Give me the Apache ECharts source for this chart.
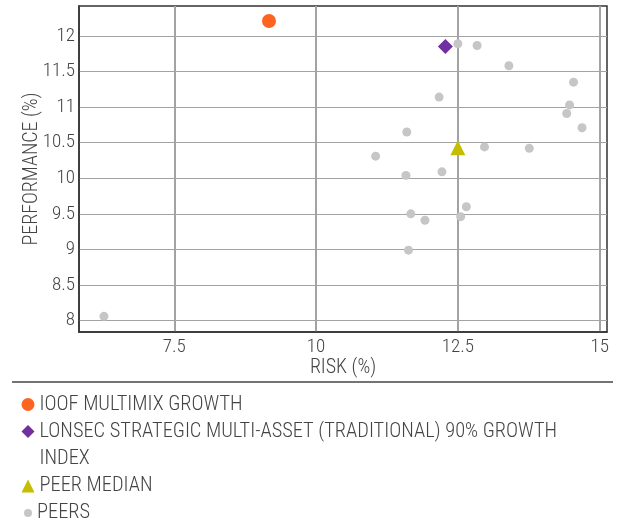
<!DOCTYPE html>
<html>
<head>
<meta charset="utf-8">
<script src="https://cdn.jsdelivr.net/npm/echarts@6/dist/echarts.min.js"></script>
<style>
  html, body { margin: 0; padding: 0; background: #fff; }
  #chart { width: 625px; height: 522px; }
</style>
</head>
<body>
<div id="chart"></div>
<script>
const riskTicks = [7.5, 10, 12.5, 15]
const perfTicks = [8, 8.5, 9, 9.5, 10, 10.5, 11, 11.5, 12]

const ioofRisk = [9.17]
const ioofPerf = [12.21]
const lonsecRisk = [12.28]
const lonsecPerf = [11.85]
const medianRisk = [12.5]
const medianPerf = [10.43]
const peerRisk = [12.5, 12.84, 13.4, 14.54, 12.17, 14.47, 14.42, 14.69, 11.6, 12.97,
  13.76, 11.05, 11.585, 12.22, 12.65, 11.67, 12.55, 11.92, 11.63, 6.26]
const peerPerf = [11.89, 11.865, 11.58, 11.35, 11.14, 11.03, 10.91, 10.71, 10.65, 10.44,
  10.42, 10.31, 10.04, 10.09, 9.6, 9.5, 9.46, 9.41, 8.99, 8.06]

const FONT = "'Roboto Condensed', 'DejaVu Sans Condensed', 'Liberation Sans Narrow', Roboto, sans-serif"
const TEXT = '#444'
const zip = (xs, ys) => xs.map((x, i) => [x, ys[i]])

const chart = echarts.init(document.getElementById('chart'))

const legendText = { fontFamily: FONT, fontSize: 20.4, fontWeight: 300, color: TEXT, lineHeight: 27 }

chart.setOption({
  animation: false,
  textStyle: { fontFamily: FONT },
  grid: {
    left: 79, top: 6, right: 18, bottom: 190,
    show: true, borderColor: '#333', borderWidth: 1.5,
  },
  xAxis: {
    type: 'value',
    min: 5.82,
    max: 15.13,
    name: 'RISK (%)',
    nameLocation: 'middle',
    nameGap: 26,
    nameMoveOverlap: false,
    nameTextStyle: { fontFamily: FONT, fontSize: 20, fontWeight: 300, color: TEXT },
    axisLine: { lineStyle: { color: '#333', width: 1.5 } },
    axisTick: { show: false, customValues: riskTicks },
    axisLabel: { customValues: riskTicks, margin: 6, fontFamily: FONT, fontSize: 19, fontWeight: 300, color: TEXT },
    splitLine: { show: true, lineStyle: { color: '#a3a3a3', width: 2 } },
  },
  yAxis: {
    type: 'value',
    min: 7.84,
    max: 12.42,
    name: 'PERFORMANCE (%)',
    nameLocation: 'middle',
    nameGap: 37,
    nameMoveOverlap: false,
    nameTextStyle: { fontFamily: FONT, fontSize: 20, fontWeight: 300, color: TEXT },
    axisLine: { show: true, lineStyle: { color: '#333', width: 1.5 } },
    axisTick: { show: false, customValues: perfTicks },
    axisLabel: { customValues: perfTicks, margin: 4, fontFamily: FONT, fontSize: 19, fontWeight: 300, color: TEXT },
    splitLine: { show: true, lineStyle: { color: '#a3a3a3', width: 1.2 } },
  },
  legend: [
    {
      data: ['IOOF MULTIMIX GROWTH', 'LONSEC STRATEGIC MULTI-ASSET (TRADITIONAL) 90% GROWTH'],
      orient: 'vertical', left: 21.5, top: 391, padding: 0,
      itemWidth: 13, itemHeight: 13, itemGap: 0,
      selectedMode: false, textStyle: legendText,
    },
    {
      data: ['PEER MEDIAN'],
      orient: 'vertical', left: 21.5, top: 472.5, padding: 0,
      itemWidth: 13, itemHeight: 13, itemGap: 0,
      selectedMode: false, textStyle: legendText,
    },
    {
      data: ['PEERS'],
      orient: 'vertical', left: 24, top: 499.5, padding: 0,
      itemWidth: 8, itemHeight: 8, itemGap: 0,
      selectedMode: false, textStyle: legendText,
    },
  ],
  graphic: [
    {
      type: 'line',
      shape: { x1: 12, y1: 382, x2: 613, y2: 382 },
      style: { stroke: '#444', lineWidth: 1.5 },
    },
    {
      type: 'text',
      x: 39.5, y: 458.5,
      style: {
        text: 'INDEX', fontFamily: FONT, fontSize: 20.4, fontWeight: 300,
        fill: TEXT, verticalAlign: 'middle',
      },
    },
  ],
  series: [
    {
      name: 'PEERS',
      type: 'scatter',
      symbol: 'circle',
      symbolSize: 9,
      itemStyle: { color: '#c6c6c6', opacity: 1 },
      data: zip(peerRisk, peerPerf),
    },
    {
      name: 'PEER MEDIAN',
      type: 'scatter',
      symbol: 'triangle',
      symbolSize: 15,
      itemStyle: { color: '#c4bd00', opacity: 1 },
      data: zip(medianRisk, medianPerf),
    },
    {
      name: 'LONSEC STRATEGIC MULTI-ASSET (TRADITIONAL) 90% GROWTH',
      type: 'scatter',
      symbol: 'diamond',
      symbolSize: 15,
      itemStyle: { color: '#7030a0', opacity: 1 },
      data: zip(lonsecRisk, lonsecPerf),
    },
    {
      name: 'IOOF MULTIMIX GROWTH',
      type: 'scatter',
      symbol: 'circle',
      symbolSize: 14,
      itemStyle: { color: '#fd6420', opacity: 1 },
      data: zip(ioofRisk, ioofPerf),
    },
  ],
})
</script>
</body>
</html>
